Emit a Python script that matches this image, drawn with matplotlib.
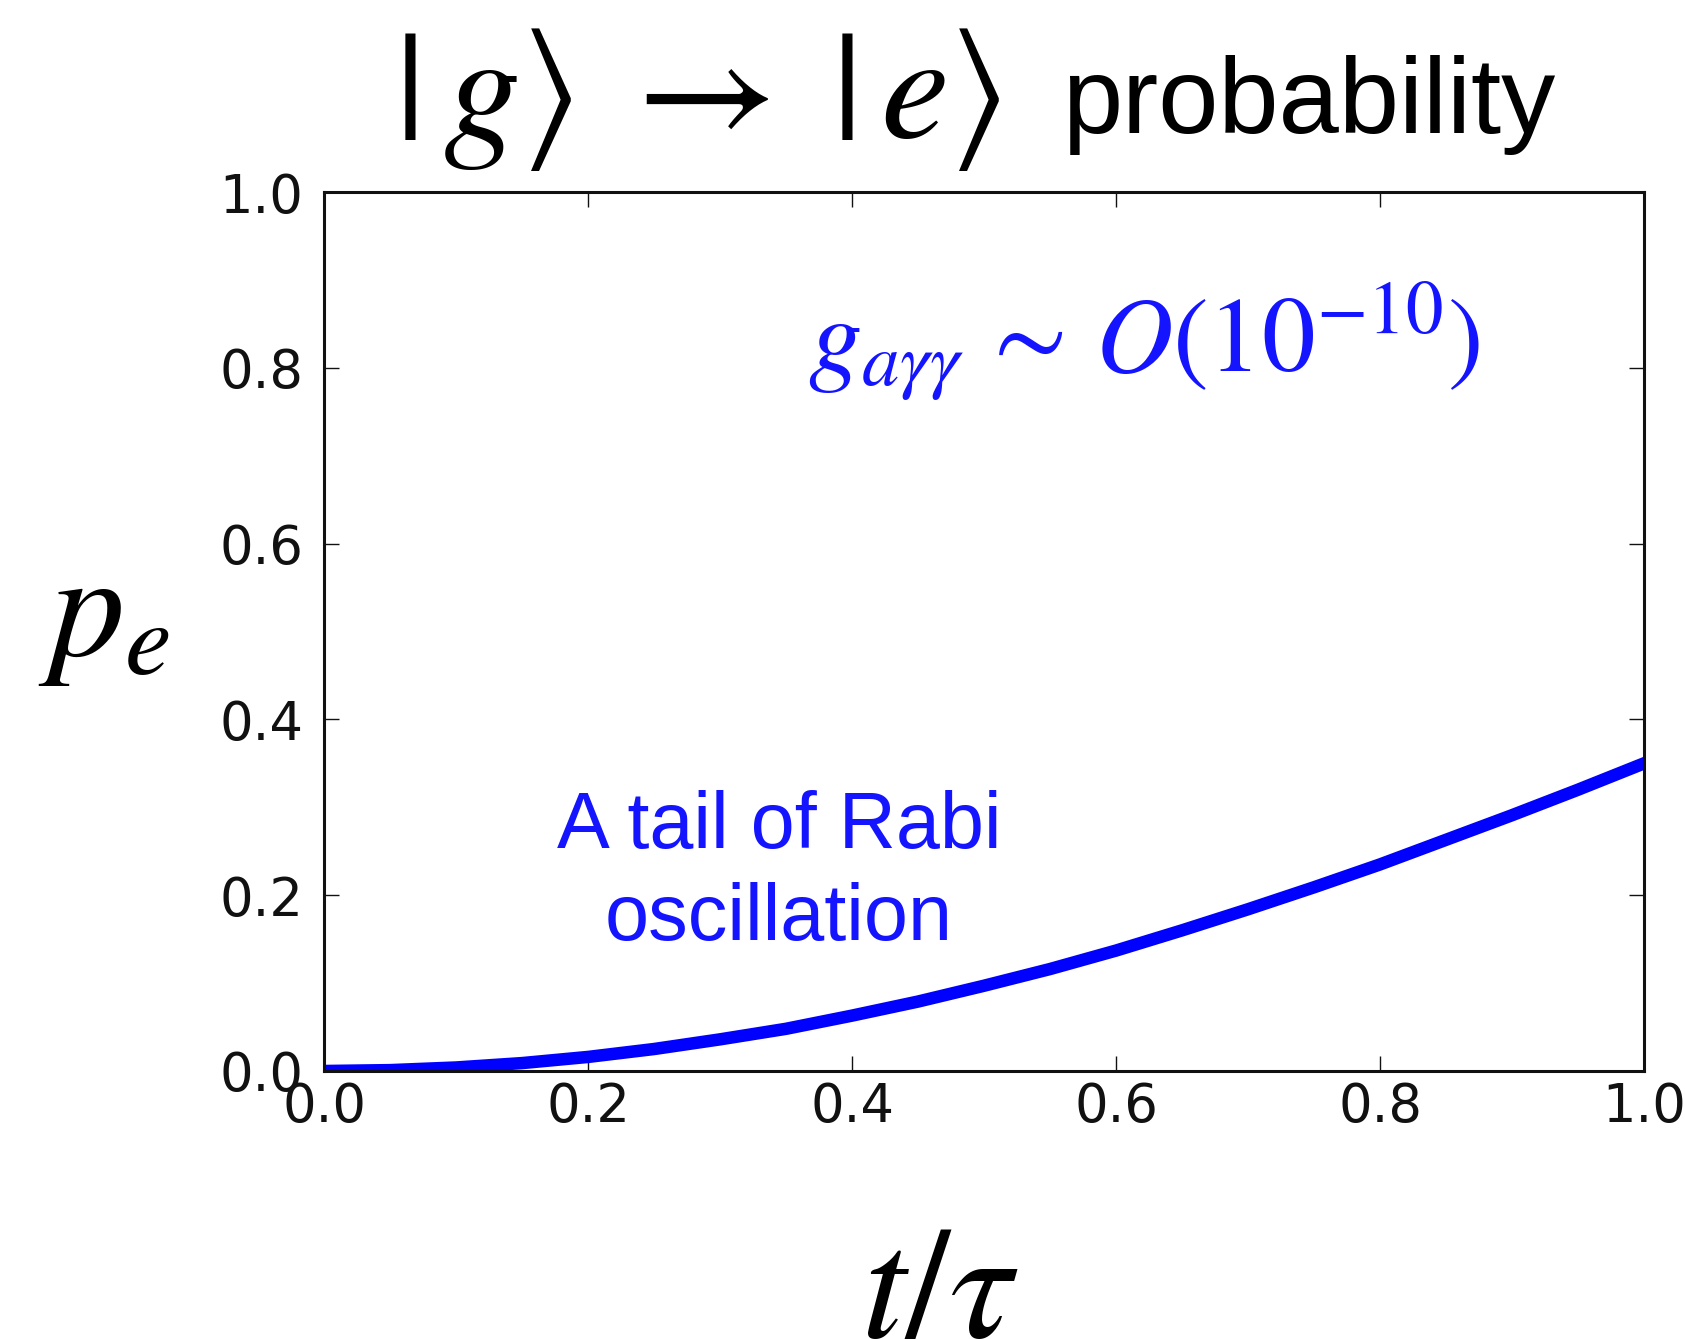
import matplotlib
matplotlib.use('Agg')
import matplotlib.pyplot as plt

plt.rcParams['mathtext.fontset'] = 'stix'

# excitation probability
t_tau = [0.00, 0.05, 0.10, 0.15, 0.20, 0.25, 0.30, 0.35, 0.40, 0.45, 0.50,
         0.55, 0.60, 0.65, 0.70, 0.75, 0.80, 0.85, 0.90, 0.95, 1.00]
p_e = [0.000, 0.001, 0.004, 0.009, 0.016, 0.025, 0.036, 0.048, 0.063, 0.079, 0.097,
       0.116, 0.137, 0.160, 0.184, 0.209, 0.235, 0.263, 0.291, 0.320, 0.350]

ticks = [0.0, 0.2, 0.4, 0.6, 0.8, 1.0]
tick_labels = ['0.0', '0.2', '0.4', '0.6', '0.8', '1.0']

W, H = 1685, 1339


def fx(x):
    return x / W


def fy(y):
    return 1 - y / H


fig = plt.figure(figsize=(W / 100, H / 100), dpi=100)
ax = fig.add_axes([fx(324), fy(1071), fx(1644) - fx(324), fy(192) - fy(1071)])

ax.plot(t_tau, p_e, color='#0000ff', linewidth=9, solid_joinstyle='round')

ax.set_xlim(0, 1)
ax.set_ylim(0, 1)
ax.set_xticks(ticks)
ax.set_yticks(ticks)
ax.set_xticklabels(tick_labels)
ax.set_yticklabels(tick_labels)
ax.tick_params(direction='in', length=11, width=1, top=True, right=True,
               labelsize=38, colors='#111111')
ax.tick_params(axis='y', pad=15)
ax.tick_params(axis='x', pad=7)
for s in ax.spines.values():
    s.set_linewidth(2.2)
    s.set_color('#111111')

# title pieces
fig.text(fx(394), fy(138), r'$|\,g\rangle\;\rightarrow\;|\,e\rangle$', fontsize=111,
         ha='left', va='baseline')
fig.text(fx(1062), fy(133), 'probability', fontsize=78, family='Liberation Sans',
         ha='left', va='baseline')

# axis labels
fig.text(fx(38), fy(615), r'$p_e$', fontsize=108, ha='left', va='center')
fig.text(fx(940), fy(1337), r'$t/\tau$', fontsize=114, ha='center', va='baseline')

# annotations
fig.text(fx(808), fy(372), r'$g_{a\gamma\gamma}\,\sim\,O(10^{-10})$', fontsize=77,
         color='#1414ff', ha='left', va='baseline')
fig.text(fx(779), fy(940), 'A tail of Rabi\noscillation', fontsize=57,
         family='Liberation Sans', color='#1414ff', ha='center', va='baseline',
         linespacing=1.3, multialignment='center')

plt.savefig('out.png', dpi=100)
